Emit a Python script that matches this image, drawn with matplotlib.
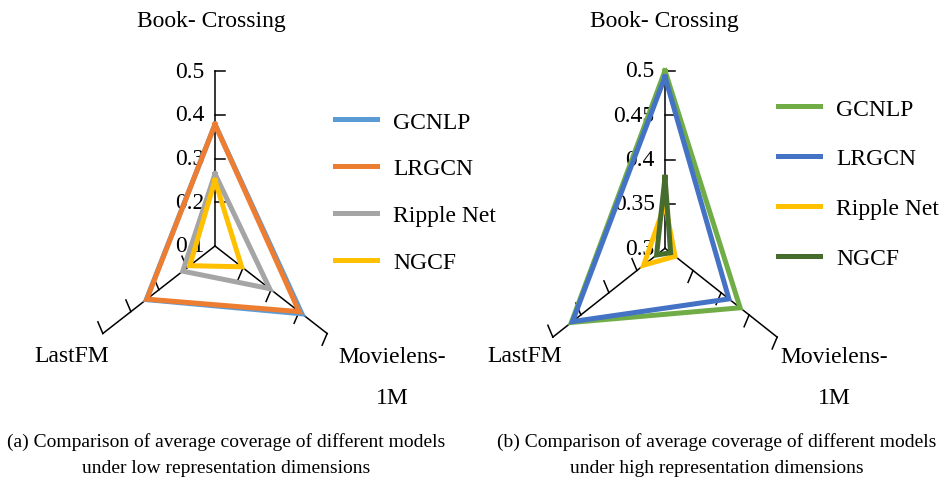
import matplotlib.pyplot as plt
import numpy as np

plt.rcParams['font.family'] = ['Liberation Serif', 'DejaVu Serif']

W, H = 942, 481

categories = ['Book- Crossing', 'Movielens-\n1M', 'LastFM']
angles_deg = [90, -30, 210]

models = ['GCNLP', 'LRGCN', 'Ripple Net', 'NGCF']

# (a) low representation dimensions
gcnlp_low = [0.378, 0.410, 0.345]
lrgcn_low = [0.378, 0.400, 0.343]
ripple_low = [0.265, 0.295, 0.215]
ngcf_low = [0.250, 0.195, 0.190]
ticks_low = [0.1, 0.2, 0.3, 0.4, 0.5]
colors_low = ['#5B9BD5', '#ED7D31', '#A5A5A5', '#FFC000']

# (b) high representation dimensions
gcnlp_high = [0.500, 0.434, 0.467]
lrgcn_high = [0.493, 0.414, 0.465]
ripple_high = [0.350, 0.318, 0.338]
ngcf_high = [0.380, 0.310, 0.315]
ticks_high = [0.3, 0.35, 0.4, 0.45, 0.5]
tick_labels_high = ['0.3', '0.35', '0.4', '0.45', '0.5']
colors_high = ['#70AD47', '#4472C4', '#FFC000', '#476D2E']

caption_a = ('(a) Comparison of average coverage of different models\n'
             'under low representation dimensions')
caption_b = ('(b) Comparison of average coverage of different models\n'
             'under high representation dimensions')

FS = 17


def make_axes(fig, left, right, cx, cy, rx, ry):
    """Axes whose data units are radar radii; rx, ry = pixels per unit."""
    ax = fig.add_axes([left / W, 0, (right - left) / W, 1])
    ax.set_xlim((left - cx) / rx, (right - cx) / rx)
    ax.set_ylim((cy - H) / ry, cy / ry)
    ax.axis('off')
    return ax


def radar(ax, series, colors, ticks, tick_labels):
    th = np.deg2rad(angles_deg)
    rmin, rmax = ticks[0], ticks[-1]
    # spokes with perpendicular tick marks
    L = 0.077
    for a in th:
        d = np.array([np.cos(a), np.sin(a)])
        n = np.array([np.sin(a), -np.cos(a)])
        ax.plot([0, d[0]], [0, d[1]], color='black', lw=1.1, zorder=1)
        for t in ticks[1:]:
            r = (t - rmin) / (rmax - rmin)
            p = r * d
            ax.plot([p[0], p[0] + L * n[0]], [p[1], p[1] + L * n[1]],
                    color='black', lw=1.1, zorder=1)
    # value labels along the top spoke
    for t, lab in zip(ticks, tick_labels):
        r = (t - rmin) / (rmax - rmin)
        ax.text(-0.08, r, lab, ha='right', va='center', fontsize=FS)
    # series outlines
    for vals, c, name in zip(series, colors, models):
        r = (np.array(vals) - rmin) / (rmax - rmin)
        x = np.append(r * np.cos(th), r[0] * np.cos(th[0]))
        y = np.append(r * np.sin(th), r[0] * np.sin(th[0]))
        ax.plot(x, y, color=c, lw=3.6, solid_joinstyle='miter',
                label=name, zorder=3)


fig = plt.figure(figsize=(W / 100, H / 100), dpi=100)

ax_a = make_axes(fig, 0, 470, 215, 247, 129.5, 175)
radar(ax_a, [gcnlp_low, lrgcn_low, ripple_low, ngcf_low], colors_low,
      ticks_low, [f'{t:.1f}' for t in ticks_low])

ax_b = make_axes(fig, 470, 942, 665, 249.3, 129.5, 177.6)
radar(ax_b, [gcnlp_high, lrgcn_high, ripple_high, ngcf_high], colors_high,
      ticks_high, tick_labels_high)

for ax, anchor, spacing in [(ax_a, (335, 112), 1.07), (ax_b, (778, 99), 1.2)]:
    ax.legend(loc='upper left', bbox_to_anchor=(anchor[0] / W, 1 - anchor[1] / H),
              bbox_transform=fig.transFigure, frameon=False, fontsize=FS,
              handlelength=1.78, handletextpad=0.68, labelspacing=spacing,
              borderpad=0, borderaxespad=0)


def ftext(x, y, s, **kw):
    fig.text(x / W, 1 - y / H, s, **kw)


for top_x, last_x, movie_x in [(211, 72, 392), (664, 525, 834)]:
    ftext(top_x, 22, categories[0], ha='center', va='center', fontsize=FS)
    ftext(movie_x, 378, categories[1], ha='center', va='center',
          fontsize=FS, linespacing=2.2)
    ftext(last_x, 357, categories[2], ha='center', va='center', fontsize=FS)

ftext(226, 455, caption_a, ha='center', va='center', fontsize=14,
      linespacing=1.75)
ftext(717, 455, caption_b, ha='center', va='center', fontsize=14,
      linespacing=1.75)

fig.savefig('out.png', dpi=100)
